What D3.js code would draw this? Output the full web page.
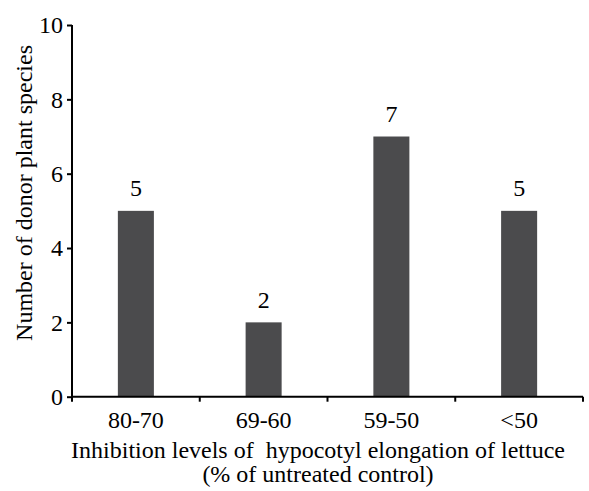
<!DOCTYPE html>
<html><head><meta charset="utf-8">
<script src="https://cdn.jsdelivr.net/npm/d3@7"></script>
<style>body{margin:0;background:#fff}</style>
</head><body>
<svg id="c" width="589" height="491"></svg>
<script>
const categories = ["80-70", "69-60", "59-50", "<50"];
const values = [5, 2, 7, 5];
const yTicks = [0, 2, 4, 6, 8, 10];
const yTitle = "Number of donor plant species";
const xTitle1 = "Inhibition levels of  hypocotyl elongation of lettuce";
const xTitle2 = "(% of untreated control)";

const FONT = "Liberation Serif";
const FS = 24;
const svg = d3.select("#c");
const mL = 72, mR = 583, mT = 25, mB = 396.7;
const x = d3.scaleBand().domain(categories).range([mL, mR]).paddingInner(0.718).paddingOuter(0.359);
const y = d3.scaleLinear().domain([0, 10]).range([mB, mT]);

function txt(sel) {
  return sel.style("font-family", FONT).style("font-size", FS + "px").attr("fill", "#000");
}

svg.selectAll("rect.bar").data(values).join("rect").attr("class","bar")
  .attr("x",(d,i)=>x(categories[i])).attr("width",x.bandwidth())
  .attr("y",d=>y(d)).attr("height",d=>y(0)-y(d)).attr("fill","#4b4b4d");

txt(svg.selectAll("text.val").data(values).join("text").attr("class","val")
  .attr("x",(d,i)=>x(categories[i])+x.bandwidth()/2).attr("y",d=>y(d)-14.5)
  .attr("text-anchor","middle")).text(d=>d);

const yAxis = d3.axisLeft(y).tickValues(yTicks).tickSize(5).tickPadding(4).tickFormat(d3.format("d"));
const gy = svg.append("g").attr("transform",`translate(${mL},0)`).call(yAxis);
gy.attr("font-family", null).attr("font-size", null);
gy.select(".domain").attr("stroke","#000").attr("stroke-width",2).attr("d",`M0,${mT}V${mB}`);
gy.selectAll(".tick line").attr("stroke","#000").attr("stroke-width",2);
txt(gy.selectAll(".tick text"));

const gx = svg.append("g").attr("transform",`translate(0,${mB})`);
gx.append("line").attr("x1",mL-1).attr("x2",mR).attr("stroke","#000").attr("stroke-width",2);
const bounds = categories.map(c=>x(c)-x.step()*x.paddingInner()/2).concat([mR]);
gx.selectAll("line.t").data(bounds).join("line").attr("class","t")
  .attr("x1",d=>d).attr("x2",d=>d).attr("y1",0).attr("y2",5).attr("stroke","#000").attr("stroke-width",2);
txt(gx.selectAll("text.cat").data(categories).join("text").attr("class","cat")
  .attr("x",d=>x(d)+x.bandwidth()/2).attr("y",31.6).attr("text-anchor","middle")).text(d=>d);

txt(svg.append("text").attr("x",318).attr("y",458).attr("text-anchor","middle").style("white-space","pre")).text(xTitle1);
txt(svg.append("text").attr("x",318).attr("y",482).attr("text-anchor","middle")).text(xTitle2);
txt(svg.append("text").attr("transform","translate(32,193) rotate(-90)").attr("text-anchor","middle")).text(yTitle);
</script>
</body></html>
